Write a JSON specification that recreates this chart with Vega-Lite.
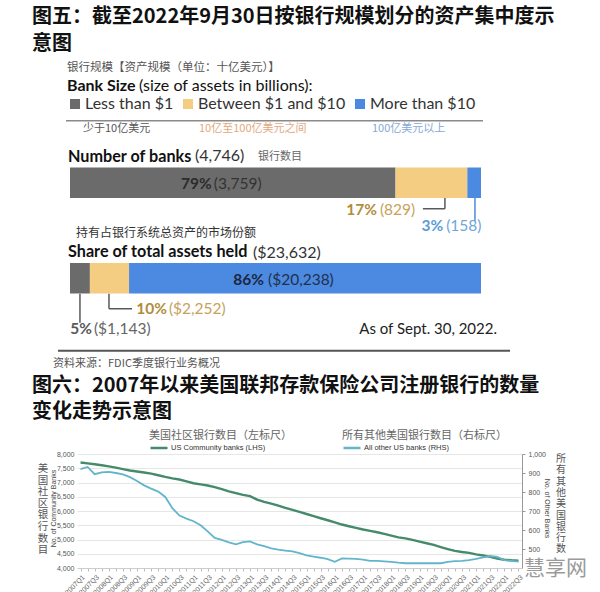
{
  "$schema": "https://vega.github.io/schema/vega-lite/v6.json",
  "background": "white",
  "padding": {"left": 32, "top": 7, "right": 0, "bottom": 0},
  "spacing": 7,
  "config": {"view": {"stroke": null}, "font": "Lato"},
  "datasets": {
    "bars": [
      {"metric": "Number of banks", "size": "Less than $1", "rank": 1, "value": 3759, "pct": "79%", "amount": "(3,759)"},
      {"metric": "Number of banks", "size": "Between $1 and $10", "rank": 2, "value": 829, "pct": "17%", "amount": "(829)"},
      {"metric": "Number of banks", "size": "More than $10", "rank": 3, "value": 158, "pct": "3%", "amount": "(158)"},
      {"metric": "Share of total assets held", "size": "Less than $1", "rank": 1, "value": 1143, "pct": "5%", "amount": "($1,143)"},
      {"metric": "Share of total assets held", "size": "Between $1 and $10", "rank": 2, "value": 2252, "pct": "10%", "amount": "($2,252)"},
      {"metric": "Share of total assets held", "size": "More than $10", "rank": 3, "value": 20238, "pct": "86%", "amount": "($20,238)"}
    ],
    "totals": [
      {"metric": "Number of banks", "total": "(4,746)", "cn": "银行数目"},
      {"metric": "Share of total assets held", "total": "($23,632)", "cn": "持有占银行系统总资产的市场份额"}
    ],
    "quarters": [
      {"quarter": "2007Q1", "community": 7700, "other": 920},
      {"quarter": "2007Q2", "community": 7670, "other": 932},
      {"quarter": "2007Q3", "community": 7640, "other": 894},
      {"quarter": "2007Q4", "community": 7605, "other": 903},
      {"quarter": "2008Q1", "community": 7565, "other": 906},
      {"quarter": "2008Q2", "community": 7520, "other": 900},
      {"quarter": "2008Q3", "community": 7470, "other": 893},
      {"quarter": "2008Q4", "community": 7420, "other": 878},
      {"quarter": "2009Q1", "community": 7385, "other": 858},
      {"quarter": "2009Q2", "community": 7350, "other": 835},
      {"quarter": "2009Q3", "community": 7310, "other": 818},
      {"quarter": "2009Q4", "community": 7255, "other": 802},
      {"quarter": "2010Q1", "community": 7195, "other": 774},
      {"quarter": "2010Q2", "community": 7145, "other": 715},
      {"quarter": "2010Q3", "community": 7105, "other": 676},
      {"quarter": "2010Q4", "community": 7040, "other": 660},
      {"quarter": "2011Q1", "community": 6975, "other": 646},
      {"quarter": "2011Q2", "community": 6935, "other": 625},
      {"quarter": "2011Q3", "community": 6895, "other": 593},
      {"quarter": "2011Q4", "community": 6840, "other": 558},
      {"quarter": "2012Q1", "community": 6765, "other": 548},
      {"quarter": "2012Q2", "community": 6690, "other": 535},
      {"quarter": "2012Q3", "community": 6625, "other": 525},
      {"quarter": "2012Q4", "community": 6565, "other": 536},
      {"quarter": "2013Q1", "community": 6520, "other": 540},
      {"quarter": "2013Q2", "community": 6400, "other": 524},
      {"quarter": "2013Q3", "community": 6320, "other": 515},
      {"quarter": "2013Q4", "community": 6260, "other": 503},
      {"quarter": "2014Q1", "community": 6190, "other": 497},
      {"quarter": "2014Q2", "community": 6110, "other": 492},
      {"quarter": "2014Q3", "community": 6040, "other": 487},
      {"quarter": "2014Q4", "community": 5970, "other": 478},
      {"quarter": "2015Q1", "community": 5895, "other": 466},
      {"quarter": "2015Q2", "community": 5820, "other": 460},
      {"quarter": "2015Q3", "community": 5745, "other": 454},
      {"quarter": "2015Q4", "community": 5675, "other": 447},
      {"quarter": "2016Q1", "community": 5600, "other": 433},
      {"quarter": "2016Q2", "community": 5525, "other": 450},
      {"quarter": "2016Q3", "community": 5465, "other": 449},
      {"quarter": "2016Q4", "community": 5410, "other": 448},
      {"quarter": "2017Q1", "community": 5350, "other": 444},
      {"quarter": "2017Q2", "community": 5305, "other": 438},
      {"quarter": "2017Q3", "community": 5255, "other": 437},
      {"quarter": "2017Q4", "community": 5195, "other": 435},
      {"quarter": "2018Q1", "community": 5135, "other": 432},
      {"quarter": "2018Q2", "community": 5075, "other": 428},
      {"quarter": "2018Q3", "community": 5040, "other": 425},
      {"quarter": "2018Q4", "community": 4985, "other": 426},
      {"quarter": "2019Q1", "community": 4925, "other": 425},
      {"quarter": "2019Q2", "community": 4870, "other": 425},
      {"quarter": "2019Q3", "community": 4810, "other": 426},
      {"quarter": "2019Q4", "community": 4735, "other": 425},
      {"quarter": "2020Q1", "community": 4665, "other": 432},
      {"quarter": "2020Q2", "community": 4600, "other": 436},
      {"quarter": "2020Q3", "community": 4560, "other": 438},
      {"quarter": "2020Q4", "community": 4530, "other": 442},
      {"quarter": "2021Q1", "community": 4480, "other": 448},
      {"quarter": "2021Q2", "community": 4440, "other": 456},
      {"quarter": "2021Q3", "community": 4390, "other": 463},
      {"quarter": "2021Q4", "community": 4330, "other": 458},
      {"quarter": "2022Q1", "community": 4290, "other": 442},
      {"quarter": "2022Q2", "community": 4270, "other": 438},
      {"quarter": "2022Q3", "community": 4256, "other": 433}
    ]
  },
  "vconcat": [
    {
      "width": 404,
      "height": 191,
      "title": {"text": ["图五：截至2022年9月30日按银行规模划分的资产集中度示", "意图"], "anchor": "start", "frame": "group", "dx": -45, "font": "Noto Sans CJK SC", "fontSize": 20, "fontWeight": "bold", "lineHeight": 26.5, "color": "#111", "offset": 8.5},
      "data": {"name": "bars"},
      "transform": [
        {"stack": "value", "groupby": ["metric"], "sort": [{"field": "rank", "order": "ascending"}], "as": ["x0", "x1"], "offset": "normalize"},
        {"calculate": "(datum.x0 + datum.x1) / 2", "as": "mid"}
      ],
      "encoding": {
        "y": {"field": "metric", "type": "nominal", "scale": {"type": "point", "padding": 0.5, "domain": ["Number of banks", "Share of total assets held"]}, "axis": null}
      },
      "layer": [
        {
          "mark": {"type": "bar", "height": 30.5},
          "encoding": {
            "x": {"field": "x0", "type": "quantitative", "scale": {"domain": [0.017, 1], "zero": false, "nice": false}, "axis": null},
            "x2": {"field": "x1"},
            "color": {"field": "size", "type": "nominal", "scale": {"domain": ["Less than $1", "Between $1 and $10", "More than $10"], "range": ["#6b6b6b", "#f4cd82", "#4b8ae0"]},
              "legend": {"orient": "none", "legendX": -10, "legendY": -39, "direction": "horizontal", "title": null, "symbolType": "square", "symbolSize": 100, "symbolStrokeWidth": 0, "symbolOpacity": 1, "labelFont": "Lato", "labelFontSize": 16, "labelColor": "#333", "labelOffset": 2, "columnPadding": 6, "labelLimit": 300}}
          }
        },
        {
          "transform": [{"filter": "datum.metric == 'Number of banks' && datum.rank == 1"}],
          "mark": {"type": "text", "fontWeight": "bold", "fontSize": 15.5, "align": "right", "baseline": "middle", "dx": -21, "dy": 1, "color": "#2b2b2b"},
          "encoding": {"x": {"field": "mid", "type": "quantitative"}, "text": {"field": "pct"}}
        },
        {
          "transform": [{"filter": "datum.metric == 'Number of banks' && datum.rank == 1"}],
          "mark": {"type": "text", "fontSize": 15.5, "align": "left", "baseline": "middle", "dx": -19, "dy": 1, "color": "#333"},
          "encoding": {"x": {"field": "mid", "type": "quantitative"}, "text": {"field": "amount"}}
        },
        {
          "transform": [{"filter": "datum.metric == 'Share of total assets held' && datum.rank == 3"}],
          "mark": {"type": "text", "fontWeight": "bold", "fontSize": 15.5, "align": "right", "baseline": "middle", "dx": -41, "dy": 2, "color": "#1c2740"},
          "encoding": {"x": {"field": "mid", "type": "quantitative"}, "text": {"field": "pct"}}
        },
        {
          "transform": [{"filter": "datum.metric == 'Share of total assets held' && datum.rank == 3"}],
          "mark": {"type": "text", "fontSize": 15.5, "align": "left", "baseline": "middle", "dx": -37, "dy": 2, "color": "#22304d"},
          "encoding": {"x": {"field": "mid", "type": "quantitative"}, "text": {"field": "amount"}}
        },
        {
          "transform": [{"filter": "datum.metric == 'Number of banks' && datum.rank == 2"}],
          "mark": {"type": "text", "fontWeight": "bold", "fontSize": 15.5, "align": "right", "baseline": "middle", "dx": -54.5, "dy": 27, "color": "#b08d3c"},
          "encoding": {"x": {"field": "mid", "type": "quantitative"}, "text": {"field": "pct"}}
        },
        {
          "transform": [{"filter": "datum.metric == 'Number of banks' && datum.rank == 2"}],
          "mark": {"type": "text", "fontSize": 15.5, "align": "left", "baseline": "middle", "dx": -51.5, "dy": 27, "color": "#c7a25a"},
          "encoding": {"x": {"field": "mid", "type": "quantitative"}, "text": {"field": "amount"}}
        },
        {
          "transform": [{"filter": "datum.metric == 'Number of banks' && datum.rank == 2"}],
          "mark": {"type": "rule", "color": "#595959", "strokeWidth": 1.5, "xOffset": 13.5, "yOffset": 15.25, "y2Offset": 26},
          "encoding": {"x": {"field": "mid", "type": "quantitative"}, "y2": {"field": "metric"}}
        },
        {
          "transform": [{"filter": "datum.metric == 'Number of banks' && datum.rank == 2"}],
          "mark": {"type": "rule", "color": "#595959", "strokeWidth": 1.5, "xOffset": 13.5, "x2Offset": -8.5, "yOffset": 26},
          "encoding": {"x": {"field": "mid", "type": "quantitative"}, "x2": {"field": "mid"}}
        },
        {
          "transform": [{"filter": "datum.metric == 'Number of banks' && datum.rank == 3"}],
          "mark": {"type": "text", "fontWeight": "bold", "fontSize": 15.5, "align": "right", "baseline": "middle", "dx": -31, "dy": 43, "color": "#5b9bd5"},
          "encoding": {"x": {"field": "mid", "type": "quantitative"}, "text": {"field": "pct"}}
        },
        {
          "transform": [{"filter": "datum.metric == 'Number of banks' && datum.rank == 3"}],
          "mark": {"type": "text", "fontSize": 15.5, "align": "left", "baseline": "middle", "dx": -28, "dy": 43, "color": "#6fa6da"},
          "encoding": {"x": {"field": "mid", "type": "quantitative"}, "text": {"field": "amount"}}
        },
        {
          "transform": [{"filter": "datum.metric == 'Number of banks' && datum.rank == 3"}],
          "mark": {"type": "rule", "color": "#4b8ae0", "strokeWidth": 1.5, "xOffset": 0.8, "yOffset": 15.25, "y2Offset": 38},
          "encoding": {"x": {"field": "mid", "type": "quantitative"}, "y2": {"field": "metric"}}
        },
        {
          "transform": [{"filter": "datum.metric == 'Share of total assets held' && datum.rank == 1"}],
          "mark": {"type": "text", "fontWeight": "bold", "fontSize": 15.5, "align": "right", "baseline": "middle", "dx": 12, "dy": 50.5, "color": "#595959"},
          "encoding": {"x": {"field": "mid", "type": "quantitative"}, "text": {"field": "pct"}}
        },
        {
          "transform": [{"filter": "datum.metric == 'Share of total assets held' && datum.rank == 1"}],
          "mark": {"type": "text", "fontSize": 15.5, "align": "left", "baseline": "middle", "dx": 14, "dy": 50.5, "color": "#666"},
          "encoding": {"x": {"field": "mid", "type": "quantitative"}, "text": {"field": "amount"}}
        },
        {
          "transform": [{"filter": "datum.metric == 'Share of total assets held' && datum.rank == 1"}],
          "mark": {"type": "rule", "color": "#595959", "strokeWidth": 1.5, "yOffset": 15.5, "y2Offset": 44.5},
          "encoding": {"x": {"field": "mid", "type": "quantitative"}, "y2": {"field": "metric"}}
        },
        {
          "transform": [{"filter": "datum.metric == 'Share of total assets held' && datum.rank == 2"}],
          "mark": {"type": "text", "fontWeight": "bold", "fontSize": 15.5, "align": "right", "baseline": "middle", "dx": 57.5, "dy": 30.5, "color": "#b08d3c"},
          "encoding": {"x": {"field": "mid", "type": "quantitative"}, "text": {"field": "pct"}}
        },
        {
          "transform": [{"filter": "datum.metric == 'Share of total assets held' && datum.rank == 2"}],
          "mark": {"type": "text", "fontSize": 15.5, "align": "left", "baseline": "middle", "dx": 59.5, "dy": 30.5, "color": "#c7a25a"},
          "encoding": {"x": {"field": "mid", "type": "quantitative"}, "text": {"field": "amount"}}
        },
        {
          "transform": [{"filter": "datum.metric == 'Share of total assets held' && datum.rank == 2"}],
          "mark": {"type": "rule", "color": "#595959", "strokeWidth": 1.5, "xOffset": -0.5, "yOffset": 15.5, "y2Offset": 30.5},
          "encoding": {"x": {"field": "mid", "type": "quantitative"}, "y2": {"field": "metric"}}
        },
        {
          "transform": [{"filter": "datum.metric == 'Share of total assets held' && datum.rank == 2"}],
          "mark": {"type": "rule", "color": "#595959", "strokeWidth": 1.5, "xOffset": -0.5, "x2Offset": 22.5, "yOffset": 30.5},
          "encoding": {"x": {"field": "mid", "type": "quantitative"}, "x2": {"field": "mid"}}
        },
        {
          "data": {"name": "totals"},
          "mark": {"type": "text", "fontWeight": "bold", "fontSize": 16.2, "align": "left", "baseline": "middle", "dx": -2, "dy": -26, "color": "#111"},
          "encoding": {"x": {"datum": 0, "type": "quantitative"}, "text": {"field": "metric"}}
        },
        {
          "data": {"name": "totals"},
          "transform": [{"filter": "datum.metric == 'Number of banks'"}],
          "mark": {"type": "text", "fontSize": 16, "align": "left", "baseline": "middle", "dx": 125, "dy": -27, "color": "#333"},
          "encoding": {"x": {"datum": 0, "type": "quantitative"}, "text": {"field": "total"}}
        },
        {
          "data": {"name": "totals"},
          "transform": [{"filter": "datum.metric == 'Share of total assets held'"}],
          "mark": {"type": "text", "fontSize": 16, "align": "left", "baseline": "middle", "dx": 183, "dy": -25.5, "color": "#333"},
          "encoding": {"x": {"datum": 0, "type": "quantitative"}, "text": {"field": "total"}}
        },
        {
          "data": {"name": "totals"},
          "transform": [{"filter": "datum.metric == 'Number of banks'"}],
          "mark": {"type": "text", "font": "Noto Sans CJK SC", "fontSize": 11, "align": "left", "baseline": "middle", "dx": 188, "dy": -26, "color": "#666"},
          "encoding": {"x": {"datum": 0, "type": "quantitative"}, "text": {"field": "cn"}}
        },
        {
          "data": {"name": "totals"},
          "transform": [{"filter": "datum.metric == 'Share of total assets held'"}],
          "mark": {"type": "text", "font": "Noto Sans CJK SC", "fontSize": 12, "align": "left", "baseline": "middle", "dx": 6, "dy": -45.5, "color": "#333"},
          "encoding": {"x": {"datum": 0, "type": "quantitative"}, "text": {"field": "cn"}}
        },
        {
          "data": {"values": [{"label": "银行规模【资产规模（单位：十亿美元）】"}]},
          "mark": {"type": "text", "font": "Noto Sans CJK SC", "fontSize": 11.5, "align": "left", "baseline": "middle", "dx": -3, "dy": -114.5, "color": "#555"},
          "encoding": {"x": {"datum": 0, "type": "quantitative"}, "y": {"datum": "Number of banks", "type": "nominal"}, "text": {"field": "label"}}
        },
        {
          "data": {"values": [{"label": "Bank Size"}]},
          "mark": {"type": "text", "fontWeight": "bold", "fontSize": 16, "align": "left", "baseline": "middle", "dx": -3, "dy": -97, "color": "#111"},
          "encoding": {"x": {"datum": 0, "type": "quantitative"}, "y": {"datum": "Number of banks", "type": "nominal"}, "text": {"field": "label"}}
        },
        {
          "data": {"values": [{"label": "(size of assets in billions):"}]},
          "mark": {"type": "text", "fontSize": 16, "align": "left", "baseline": "middle", "dx": 69, "dy": -97, "color": "#111"},
          "encoding": {"x": {"datum": 0, "type": "quantitative"}, "y": {"datum": "Number of banks", "type": "nominal"}, "text": {"field": "label"}}
        },
        {
          "data": {"values": [{"label": "少于10亿美元"}]},
          "mark": {"type": "text", "font": "Noto Sans CJK SC", "fontSize": 11, "align": "left", "baseline": "middle", "dx": 13, "dy": -54, "color": "#555"},
          "encoding": {"x": {"datum": 0, "type": "quantitative"}, "y": {"datum": "Number of banks", "type": "nominal"}, "text": {"field": "label"}}
        },
        {
          "data": {"values": [{"label": "10亿至100亿美元之间"}]},
          "mark": {"type": "text", "font": "Noto Sans CJK SC", "fontSize": 11, "align": "left", "baseline": "middle", "dx": 129, "dy": -54, "color": "#e3a87e"},
          "encoding": {"x": {"datum": 0, "type": "quantitative"}, "y": {"datum": "Number of banks", "type": "nominal"}, "text": {"field": "label"}}
        },
        {
          "data": {"values": [{"label": "100亿美元以上"}]},
          "mark": {"type": "text", "font": "Noto Sans CJK SC", "fontSize": 11, "align": "left", "baseline": "middle", "dx": 302, "dy": -54, "color": "#86a9d6"},
          "encoding": {"x": {"datum": 0, "type": "quantitative"}, "y": {"datum": "Number of banks", "type": "nominal"}, "text": {"field": "label"}}
        },
        {
          "data": {"values": [{"label": "legend rule"}]},
          "mark": {"type": "rule", "color": "#8a8a8a", "strokeWidth": 1.5, "xOffset": -4, "x2Offset": 2, "yOffset": -62},
          "encoding": {"x": {"datum": 0, "type": "quantitative"}, "x2": {"datum": 1}, "y": {"datum": "Number of banks", "type": "nominal"}}
        },
        {
          "data": {"values": [{"label": "As of Sept. 30, 2022."}]},
          "mark": {"type": "text", "fontSize": 15, "align": "right", "baseline": "middle", "dx": 16, "dy": 50.5, "color": "#222"},
          "encoding": {"x": {"datum": 1, "type": "quantitative"}, "y": {"datum": "Share of total assets held", "type": "nominal"}, "text": {"field": "label"}}
        },
        {
          "data": {"values": [{"label": "separator"}]},
          "mark": {"type": "rule", "color": "#555", "strokeWidth": 2, "xOffset": -12, "x2Offset": 29, "yOffset": 72.5},
          "encoding": {"x": {"datum": 0, "type": "quantitative"}, "x2": {"datum": 1}, "y": {"datum": "Share of total assets held", "type": "nominal"}}
        },
        {
          "data": {"values": [{"label": "资料来源：FDIC季度银行业务概况"}]},
          "mark": {"type": "text", "font": "Noto Sans CJK SC", "fontSize": 11, "align": "left", "baseline": "middle", "dx": -17, "dy": 85.5, "color": "#555"},
          "encoding": {"x": {"datum": 0, "type": "quantitative"}, "y": {"datum": "Share of total assets held", "type": "nominal"}, "text": {"field": "label"}}
        }
      ]
    },
    {
      "width": 445,
      "height": 114,
      "title": {"text": ["图六：2007年以来美国联邦存款保险公司注册银行的数量", "变化走势示意图"], "anchor": "start", "frame": "group", "dx": -45, "font": "Noto Sans CJK SC", "fontSize": 20, "fontWeight": "bold", "lineHeight": 26, "color": "#111", "offset": 8},
      "data": {"name": "quarters"},
      "encoding": {
        "x": {"field": "quarter", "type": "ordinal", "scale": {"type": "point", "padding": 0.5},
          "axis": {"title": null, "labelAngle": -45, "labelFontSize": 7, "labelFont": "Liberation Sans", "labelColor": "#666", "labelExpr": "(substring(datum.label, 4) == 'Q1' || substring(datum.label, 4) == 'Q3') ? datum.label : ''", "ticks": true, "tickSize": 3, "tickColor": "#bbb", "domainColor": "#ccc", "labelPadding": 2}}
      },
      "layer": [
        {
          "mark": {"type": "line", "strokeWidth": 2.4},
          "encoding": {
            "y": {"field": "community", "type": "quantitative", "scale": {"domain": [4000, 8000], "nice": false, "zero": false},
              "axis": {"orient": "left", "values": [4000, 4500, 5000, 5500, 6000, 6500, 7000, 7500, 8000], "format": ",.0f", "labelFont": "Liberation Sans", "labelFontSize": 7, "labelColor": "#555", "ticks": false, "domain": false, "labelPadding": 3, "grid": true, "gridColor": "#e6e6e6", "title": "No. of Community Banks", "titleFont": "Liberation Sans", "titleFontSize": 7, "titleFontWeight": "normal", "titleColor": "#444", "titleAngle": -90, "titleX": -23.5, "titleY": 54, "titleAlign": "center", "titleBaseline": "middle"}},
            "color": {"datum": "US Community banks (LHS)", "type": "nominal", "scale": {"range": ["#458b6b"]},
              "legend": {"orient": "none", "legendX": 72, "legendY": -24, "title": "\u2003\u2002\u2009美国社区银行数目（左标尺）", "titleFont": "Noto Sans CJK SC", "titleFontSize": 11, "titleFontWeight": "normal", "titleColor": "#666", "titlePadding": -3, "labelFont": "Liberation Sans", "labelFontSize": 7.5, "labelColor": "#333", "symbolType": "stroke", "symbolSize": 289, "symbolStrokeWidth": 2.5, "labelOffset": 2}}
          }
        },
        {
          "mark": {"type": "line", "strokeWidth": 1.8},
          "encoding": {
            "y": {"field": "other", "type": "quantitative", "scale": {"domain": [400, 1000], "nice": false, "zero": false},
              "axis": {"orient": "right", "values": [500, 600, 700, 800, 900, 1000], "format": ",.0f", "labelFont": "Liberation Sans", "labelFontSize": 7, "labelColor": "#555", "ticks": true, "tickSize": 3, "tickColor": "#999", "domain": true, "domainColor": "#999", "labelPadding": 3, "grid": false, "title": "No. of Other Banks", "titleFont": "Liberation Sans", "titleFontSize": 7, "titleFontWeight": "normal", "titleColor": "#444", "titleAngle": 90, "titleX": 24, "titleY": 54, "titleAlign": "center", "titleBaseline": "middle"}},
            "color": {"datum": "All other US banks (RHS)", "type": "nominal", "scale": {"range": ["#62b5ca"]},
              "legend": {"orient": "none", "legendX": 265, "legendY": -24, "title": "\u2003\u2002\u2009所有其他美国银行数目（右标尺）", "titleFont": "Noto Sans CJK SC", "titleFontSize": 11, "titleFontWeight": "normal", "titleColor": "#666", "titlePadding": -3, "labelFont": "Liberation Sans", "labelFontSize": 7.5, "labelColor": "#333", "symbolType": "stroke", "symbolSize": 289, "symbolStrokeWidth": 2.5, "labelOffset": 2}}
          }
        },
        {
          "mark": {"type": "line", "strokeOpacity": 0},
          "encoding": {
            "y": {"field": "community", "type": "quantitative", "scale": {"domain": [4000, 8000], "nice": false, "zero": false},
              "axis": {"orient": "left", "labels": false, "ticks": false, "domain": false, "grid": false, "title": ["美", "国", "社", "区", "银", "行", "数", "目"], "titleFont": "Noto Sans CJK SC", "titleFontSize": 10.5, "titleFontWeight": "normal", "titleColor": "#555", "titleAngle": 0, "titleLineHeight": 11.6, "titleX": -34.5, "titleY": 9.5, "titleAlign": "center", "titleBaseline": "top"}}
          }
        },
        {
          "mark": {"type": "line", "strokeOpacity": 0},
          "encoding": {
            "y": {"field": "other", "type": "quantitative", "scale": {"domain": [400, 1000], "nice": false, "zero": false},
              "axis": {"orient": "right", "labels": false, "ticks": false, "domain": false, "grid": false, "title": ["所", "有", "其", "他", "美", "国", "银", "行", "数"], "titleFont": "Noto Sans CJK SC", "titleFontSize": 10, "titleFontWeight": "normal", "titleColor": "#555", "titleAngle": 0, "titleLineHeight": 11.3, "titleX": 38.5, "titleY": -0.5, "titleAlign": "center", "titleBaseline": "top"}}
          }
        },
        {
          "data": {"values": [{"label": "慧享网"}]},
          "mark": {"type": "text", "font": "Noto Sans CJK SC", "fontSize": 21, "color": "#9a9a9a", "align": "center", "baseline": "middle", "dx": 37, "dy": 1},
          "encoding": {
            "x": {"datum": "2022Q3", "type": "ordinal"},
            "y": {"datum": 400, "type": "quantitative", "scale": {"domain": [400, 1000]}, "axis": null},
            "text": {"field": "label"}
          }
        }
      ],
      "resolve": {"scale": {"y": "independent", "color": "independent"}}
    }
  ]
}
